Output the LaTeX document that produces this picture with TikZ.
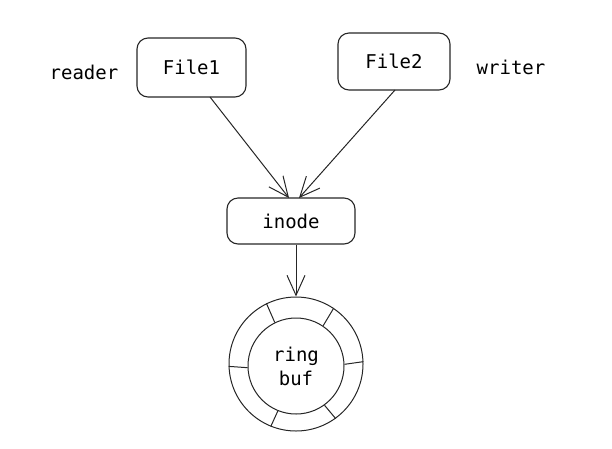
\documentclass[tikz,border=0pt]{standalone}
\usepackage{fontspec}
\setmonofont{DejaVu Sans Mono}
\usetikzlibrary{arrows.meta}
\begin{document}
\begin{tikzpicture}[x=1pt,y=-1pt,
  box/.style={draw=black!85,line width=1.1pt,rounded corners=11pt,inner sep=0pt,font=\ttfamily\fontsize{19}{22}\selectfont},
  lbl/.style={font=\ttfamily\fontsize{19}{22}\selectfont,inner sep=0pt},
  conn/.style={draw=black!85,line width=1pt,-{Straight Barb[length=20pt,width=18pt,line width=1pt]}},
  ring/.style={draw=black!85,line width=1pt}]
\useasboundingbox (0,0) rectangle (612,448);
\node[box,minimum width=109pt,minimum height=59pt] (f1) at (191.5,67.5) {File1};
\node[box,minimum width=112pt,minimum height=57pt] (f2) at (394,61.5) {File2};
\node[lbl] (rd) at (84,72) {reader};
\node[lbl] (wr) at (511,67) {writer};
\node[box,minimum width=128pt,minimum height=46pt] (in) at (291,221) {inode};
\node[circle,ring,minimum size=134pt,inner sep=0pt] (outer) at (296,364) {};
\node[circle,ring,minimum size=96pt,inner sep=0pt,align=center,font=\ttfamily\fontsize{19}{24}\selectfont] (inner) at (296,366) {ring\\buf};
\coordinate (f1s) at (210,97);
\coordinate (f2s) at (395,90);
\coordinate (t1) at (289,198);
\coordinate (t2) at (299,198);
\draw[conn] (f1s) -- (t1);
\draw[conn] (f2s) -- (t2);
\draw[conn] (in.south -| 296,0) -- (outer.north -| 296,0);
\foreach \a in {116,56,2,-54,-112,182}{
  \draw[ring] (inner.\a) -- (outer.\a);
}
\end{tikzpicture}
\end{document}
